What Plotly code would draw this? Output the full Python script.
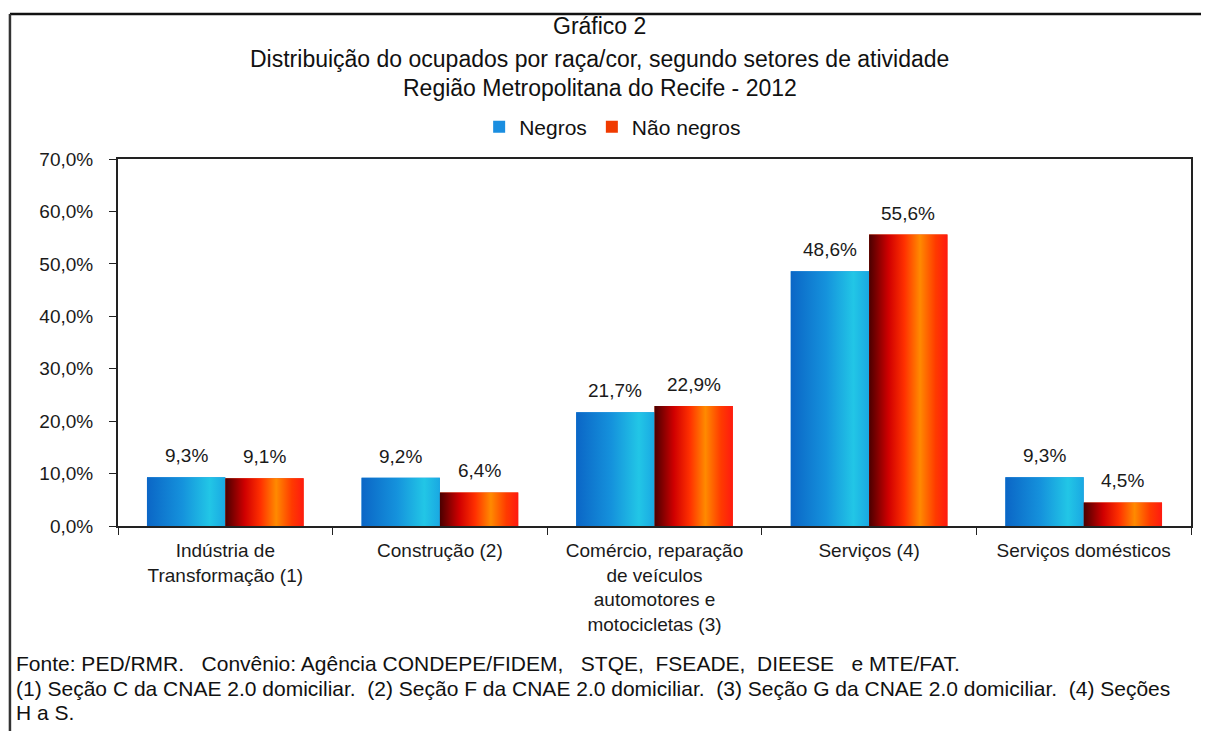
import plotly.graph_objects as go

# data (percent of employed, RMR 2012)
categories = [
    "Indústria de<br>Transformação (1)",
    "Construção (2)",
    "Comércio, reparação<br>de veículos<br>automotores e<br>motocicletas (3)",
    "Serviços (4)",
    "Serviços domésticos",
]
negros = [9.3, 9.2, 21.7, 48.6, 9.3]
nao_negros = [9.1, 6.4, 22.9, 55.6, 4.5]
series_names = ["Negros", "Não negros"]

title_lines = [
    "Gráfico 2",
    "Distribuição do ocupados por raça/cor, segundo setores de atividade",
    "Região Metropolitana do Recife - 2012",
]
note_lines = [
    "Fonte: PED/RMR.   Convênio: Agência CONDEPE/FIDEM,   STQE,  FSEADE,  DIEESE   e MTE/FAT.",
    "(1) Seção C da CNAE 2.0 domiciliar.  (2) Seção F da CNAE 2.0 domiciliar.  "
    "(3) Seção G da CNAE 2.0 domiciliar.  (4) Seções",
    "H a S.",
]

BLUE_SCALE = [[0.0, "#0b66c6"], [0.45, "#1592dc"], [0.8, "#22c6e6"], [1.0, "#1aa8e2"]]
RED_SCALE = [[0.0, "#4a0000"], [0.25, "#d00000"], [0.45, "#ff3000"], [0.65, "#ff8a00"],
             [0.85, "#ff3a00"], [1.0, "#ff1a10"]]

BARGAP = 0.27
bar_w = (1 - BARGAP) / 2

FONT = "Liberation Sans, Arial, sans-serif"
TXT = "#1a1a1a"

fig = go.Figure()

# base bars on the category axis (legend + axis)
for name, vals, col in [(series_names[0], negros, "#1a8ee0"),
                        (series_names[1], nao_negros, "#f03a00")]:
    fig.add_trace(go.Bar(x=categories, y=vals, name=name,
                         marker=dict(color=col, line=dict(width=0))))

# gradient overlay: one filled polygon per bar on a numeric twin axis
labels = []
for i in range(len(categories)):
    for k, (vals, scale) in enumerate([(negros, BLUE_SCALE), (nao_negros, RED_SCALE)]):
        x0 = i - bar_w + k * bar_w
        x1 = x0 + bar_w
        fig.add_trace(go.Scatter(
            x=[x0, x1, x1, x0, x0], y=[0, 0, vals[i], vals[i], 0],
            xaxis="x2", mode="lines", line=dict(width=0),
            fill="toself",
            fillgradient=dict(type="horizontal", colorscale=scale, start=x0, stop=x1),
            showlegend=False, hoverinfo="skip",
        ))
        labels.append(dict(
            x=(x0 + x1) / 2, y=vals[i], xref="x2", yref="y",
            text=f"{vals[i]:.1f}%".replace(".", ","),
            showarrow=False, yanchor="bottom", yshift=9,
            font=dict(size=19, color=TXT),
        ))

# title lines (paper coords above the plot area)
title_ann = [
    dict(text=t, xref="paper", yref="paper", x=0.449, y=yy, xanchor="center",
         yanchor="middle", showarrow=False, font=dict(size=23, color="#111"))
    for t, yy in zip(title_lines, [1.362, 1.272, 1.193])
]

# footnote lines below the axis labels
note_ann = [
    dict(text=t, xref="paper", yref="paper", x=-0.0969, y=yy, xanchor="left",
         yanchor="middle", align="left", showarrow=False,
         font=dict(size=21, color="#111"))
    for t, yy in zip(note_lines, [-0.376, -0.444, -0.507])
]

fig.update_layout(
    width=1201, height=723,
    separators=",.",
    barmode="group", bargap=BARGAP, bargroupgap=0,
    plot_bgcolor="white", paper_bgcolor="white",
    font=dict(family=FONT, size=19, color=TXT),
    margin=dict(l=110, r=18, t=151, b=205, autoexpand=False),
    showlegend=True,
    legend=dict(
        orientation="h", xref="paper", yref="paper",
        x=0.461, xanchor="center", y=1.087, yanchor="middle",
        font=dict(size=21, color="#111"),
        itemwidth=30, traceorder="normal",
    ),
    xaxis=dict(
        type="category", tickson="boundaries", ticks="outside", ticklen=7,
        tickcolor="#222", showline=True, linecolor="#222", linewidth=2, mirror=True,
        showgrid=False, tickfont=dict(size=19), range=[-0.5, 4.5],
        ticklabelstandoff=6, automargin=False,
    ),
    xaxis2=dict(overlaying="x", range=[-0.5, 4.5], visible=False, fixedrange=True),
    yaxis=dict(
        range=[0, 70], dtick=10, tickformat=".1f", ticksuffix="%",
        ticks="outside", ticklen=7, tickcolor="#222",
        showline=True, linecolor="#222", linewidth=2, mirror=True,
        showgrid=False, zeroline=False, tickfont=dict(size=19),
        ticklabelstandoff=12, automargin=False,
    ),
    shapes=[
        dict(type="line", xref="paper", yref="paper", x0=-0.1007, x1=1.1, y0=1.395, y1=1.395,
             line=dict(color="#111", width=2.5)),
        dict(type="line", xref="paper", yref="paper", x0=-0.1007, x1=-0.1007, y0=1.395, y1=-0.6,
             line=dict(color="#333", width=2.5)),
    ],
    annotations=title_ann + labels + note_ann,
)

fig.write_html("out.html")
